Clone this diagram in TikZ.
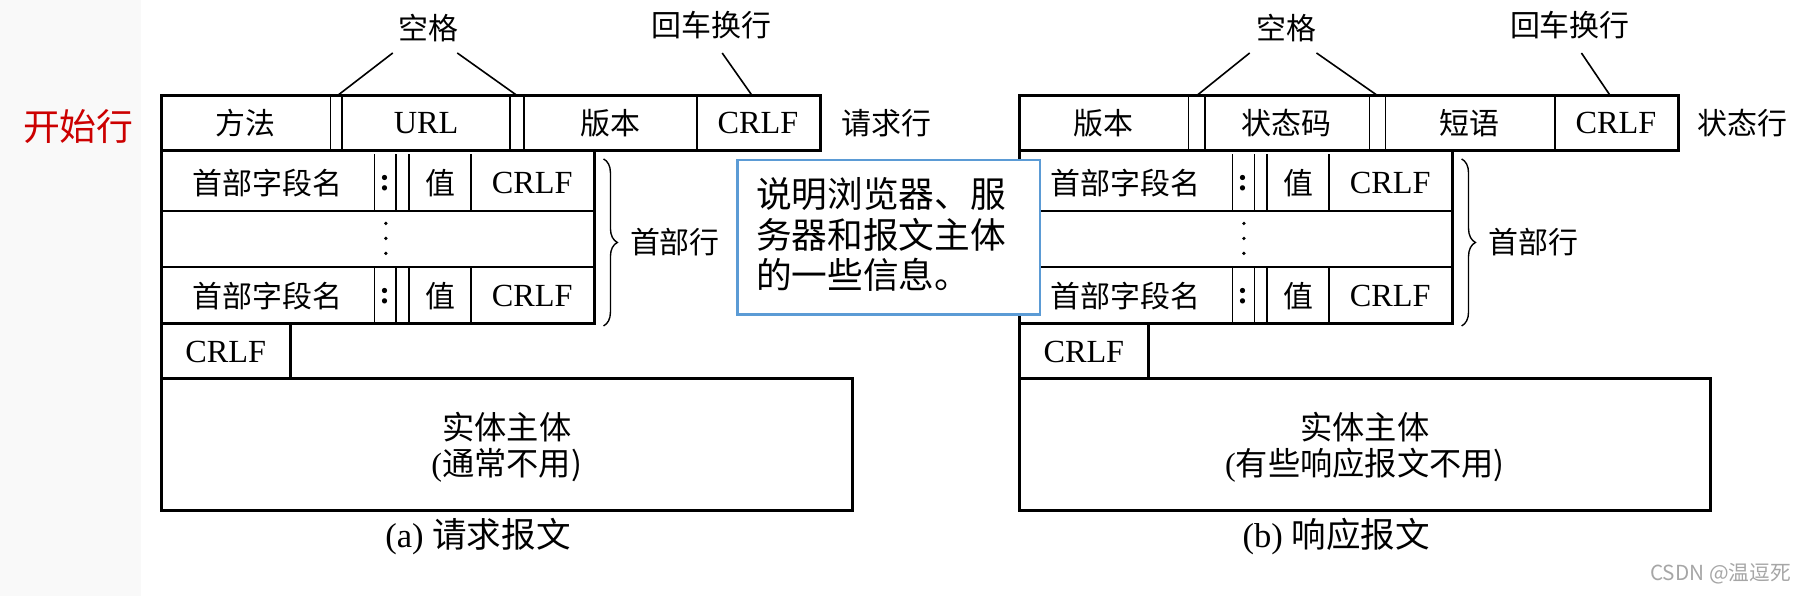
\documentclass[tikz,border=0pt]{standalone}
\usepackage{fontspec}
\setmainfont{Liberation Serif}
\newfontfamily\cjk{Noto Sans CJK SC}
\usetikzlibrary{decorations.pathreplacing}
\begin{document}
\begin{tikzpicture}[x=0.5pt,y=-0.5pt,
  box/.style={line width=1.3pt},
  div/.style={line width=0.7pt},
  lbl/.style={font=\fontsize{13}{15}\selectfont\cjk, inner sep=0pt},
  lat/.style={font=\fontsize{14}{16}\selectfont, inner sep=0pt},
  lead/.style={line width=0.7pt}]
\useasboundingbox (0,0) rectangle (1568,517.4);
\fill[gray!5] (0,0) rectangle (122,517.4);
\node[font=\fontsize{16}{18}\selectfont\cjk, text=red!80!black] (start) at (68,110) {开始行};
\newcommand\hdrrow[2]{%
  \draw[div] (325,#1) -- (325,#1+49) (344,#1) -- (344,#1+49) (355,#1) -- (355,#1+49) (409,#1) -- (409,#1+49);
  \node[lbl] (#2n) at (232,#1+25) {首部字段名};
  \node[lat] (#2c) at (334,#1+25) {\textbf{:}};
  \node[lbl] (#2v) at (382,#1+25) {值};
  \node[lat] (#2r) at (462,#1+25) {CRLF};}
\newcommand\msgbody[2]{%
  \draw[box] (140,131) rectangle (516,281);
  \draw[div] (140,183) -- (516,183) (140,232) -- (516,232);
  \hdrrow{134}{#1a}
  \hdrrow{232}{#1b}
  \fill (335,194) circle (1.6) (335,207) circle (1.6) (335,220) circle (1.6);
  \draw[box] (140,281) rectangle (252,329);
  \node[lat] (#1crlf) at (196,306) {CRLF};
  \draw[box] (140,329) rectangle (740,443);
  \node[lbl, font=\fontsize{14}{16}\selectfont\cjk] (#1ent) at (440,371) {实体主体};
  \node[lat] (#1ent2) at (440,404) {(\cjk #2)};
  \draw[line width=0.6pt, decoration={brace,amplitude=6pt}, decorate] (524,138) -- (524,283);
  \node[lbl] (#1hl) at (586,210) {首部行};
  \node[lbl] (#1sp) at (372,24) {空格};
  \node[lbl] (#1cr) at (618,22) {回车换行};}
% left
\draw[box] (140,83) rectangle (712,131);
\draw[div] (287,83) -- (287,131) (297,83) -- (297,131) (443,83) -- (443,131) (455,83) -- (455,131) (605,83) -- (605,131);
\node[lbl] (m) at (213,107) {方法};
\node[lat] (url) at (370,107) {URL};
\node[lbl] (ver) at (530,107) {版本};
\node[lat] (crlfA) at (658,107) {CRLF};
\node[lbl] (reql) at (770,107) {请求行};
\msgbody{L}{通常不用}
\coordinate (s1) at (293,83); \coordinate (s2) at (449,83); \coordinate (c1) at (653,83);
\draw[lead] (341,46) -- (s1) (397,46) -- (s2) (627,46) -- (c1);
\node[font=\fontsize{15}{17}\selectfont, inner sep=0pt] (capA) at (415,466) {(a) {\cjk 请求报文}};
% right
\begin{scope}[xshift=372.5pt]
\draw[box] (140,83) rectangle (712,131);
\draw[div] (287,83) -- (287,131) (301,83) -- (301,131) (444,83) -- (444,131) (458,83) -- (458,131) (605,83) -- (605,131);
\node[lbl] (v2) at (213,107) {版本};
\node[lbl] (sc) at (372,107) {状态码};
\node[lbl] (ph) at (531,107) {短语};
\node[lat] (crlfB) at (658,107) {CRLF};
\node[lbl] (stl) at (768,107) {状态行};
\msgbody{R}{有些响应报文不用}
\coordinate (t1) at (294,83); \coordinate (t2) at (451,83); \coordinate (d1) at (653,83);
\draw[lead] (340,46) -- (t1) (398,46) -- (t2) (628,46) -- (d1);
\node[font=\fontsize{15}{17}\selectfont, inner sep=0pt] (capB) at (415,466) {(b) {\cjk 响应报文}};
\end{scope}
% note box
\draw[line width=1.2pt, draw={rgb,255:red,91;green,155;blue,213}, fill=white] (640,139) rectangle (903,273);
\node[font=\fontsize{15.5}{17.5}\selectfont\cjk, align=left, anchor=north west, inner sep=0pt] (note) at (656,154) {说明浏览器、服\\务器和报文主体\\的一些信息。};
\node[font=\fontsize{9}{11}\selectfont\cjk, text=gray!70, anchor=east] (wm) at (1562,498) {CSDN @温逗死};
\end{tikzpicture}
\end{document}
